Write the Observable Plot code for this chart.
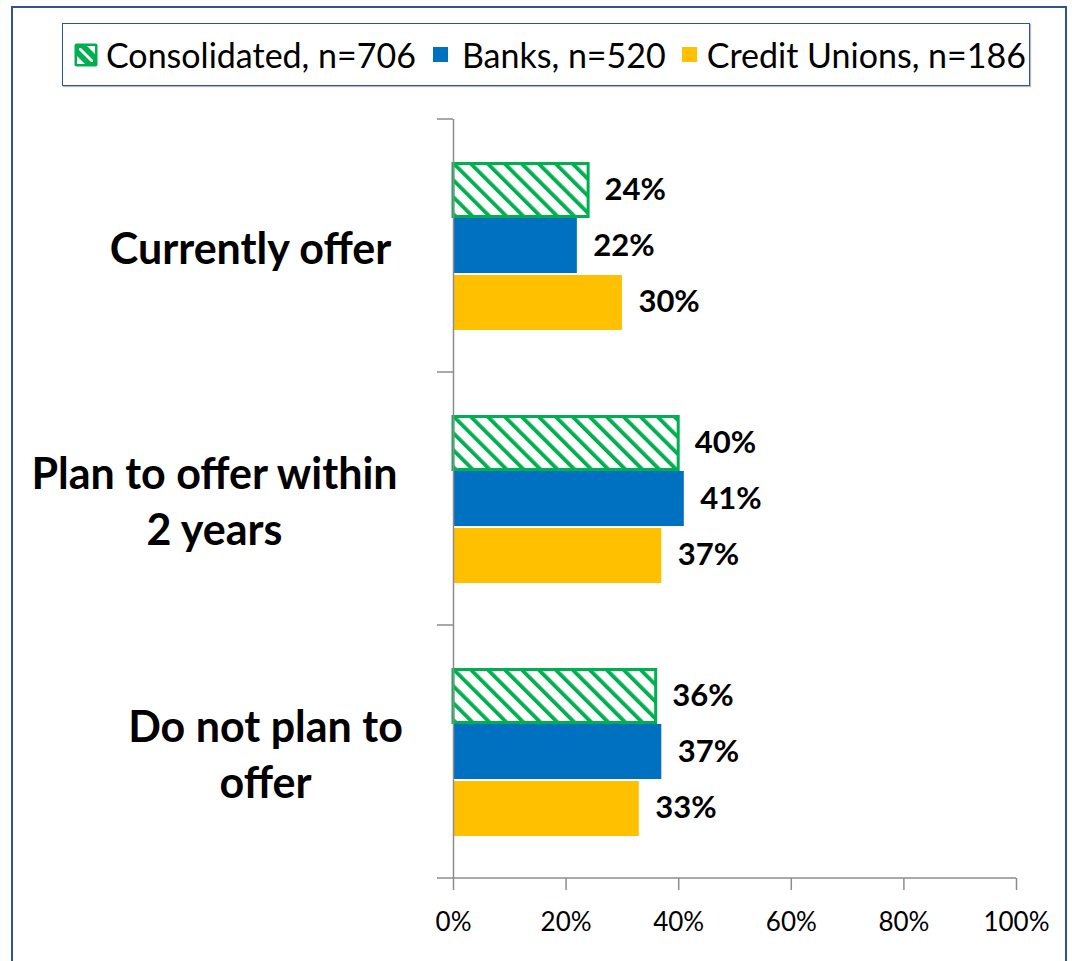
<!DOCTYPE html>
<html><head><meta charset="utf-8">
<script src="https://cdn.jsdelivr.net/npm/d3@7"></script>
<script src="https://cdn.jsdelivr.net/npm/@observablehq/plot@0.6"></script>
<style>
html,body{margin:0;padding:0;background:#fff;}
body{width:1072px;height:961px;position:relative;overflow:hidden;font-family:Lato,sans-serif;}
#chart{position:absolute;left:0;top:0;}
#frame{position:absolute;left:11px;top:6px;width:1056px;height:1000px;border:2.5px solid #2F5496;box-sizing:border-box;pointer-events:none;}
#legend{position:absolute;left:62px;top:23px;width:968px;height:63px;box-sizing:border-box;border:1.5px solid #2F5496;box-shadow:1px 1px 1px #bbb;background:#fff;display:flex;align-items:center;padding-left:11px;font-size:34px;color:#000;white-space:nowrap;}
.item{display:flex;align-items:center;}
.sw{display:inline-block;flex:none;}
</style></head><body>
<div id="chart"></div>
<div id="frame"></div>
<div id="legend"></div>
<script>
// ---- data ----
const categories = ["Currently offer", "Plan to offer within\n2 years", "Do not plan to\noffer"];
const series = ["Consolidated", "Banks", "Credit Unions"];
const sampleSizes = [706, 520, 186];
const consolidated = [24, 40, 36];
const banks = [22, 41, 37];
const creditUnions = [30, 37, 33];
const xTicks = [0, 20, 40, 60, 80, 100];

// ---- styles ----
const colors = {"Consolidated": "#00B050", "Banks": "#0070C0", "Credit Unions": "#FFC000"};
const labelCenterDx = [-203, -239, -188];
const gray = "#8c8c8c";

const valuesBySeries = {"Consolidated": consolidated, "Banks": banks, "Credit Unions": creditUnions};
const rows = [];
categories.forEach((c, i) => series.forEach(s => rows.push({category: c, series: s, value: valuesBySeries[s][i]})));
const of = s => rows.filter(d => d.series === s);

const plot = Plot.plot({
  width: 1072, height: 961,
  marginLeft: 453, marginRight: 56, marginTop: 118, marginBottom: 83,
  style: {fontFamily: "Lato, sans-serif", background: "none", overflow: "visible"},
  x: {domain: [0, 100], axis: null},
  y: {domain: series, axis: null, paddingInner: 0, paddingOuter: 0.75},
  fy: {domain: categories, axis: null, paddingInner: 0, paddingOuter: 0},
  marks: [
    Plot.barX(of("Banks"), {x: "value", y: "series", fy: "category", fill: colors["Banks"], insetBottom: 1}),
    Plot.barX(of("Credit Unions"), {x: "value", y: "series", fy: "category", fill: colors["Credit Unions"], insetTop: 1}),
    Plot.barX(of("Consolidated"), {x: "value", y: "series", fy: "category", fill: "url(#hatch)", stroke: colors["Consolidated"], strokeWidth: 3, insetTop: 1.5, insetBottom: 1.5}),
    Plot.ruleX([0], {stroke: gray, strokeWidth: 1.5}),
    Plot.text(rows, {x: "value", y: "series", fy: "category", text: d => d.value + "%", textAnchor: "start", dx: 16, fontSize: 31, fontWeight: "bold", fill: "#000"}),
    Plot.axisX({ticks: xTicks, tickFormat: d => d + "%", tickSize: 12, tickPadding: 22, fontSize: 26, stroke: gray, strokeWidth: 1.5, fill: "#000", label: null}),
    ...categories.map((c, i) => Plot.axisFy({ticks: [c], anchor: "left", tickSize: 0, tickPadding: 0, textAnchor: "middle", dx: labelCenterDx[i], fontSize: 43, fontWeight: "bold", lineHeight: 1.3, fill: "#000", label: null}))
  ]
});

// hatch pattern
const svg = d3.select(plot);
const defs = svg.insert("defs", ":first-child");
const pat = defs.append("pattern").attr("id", "hatch").attr("patternUnits", "userSpaceOnUse")
  .attr("width", 12).attr("height", 12).attr("patternTransform", "rotate(-45)");
pat.append("rect").attr("width", 12).attr("height", 12).attr("fill", "#fff");
pat.append("rect").attr("width", 3.8).attr("height", 12).attr("fill", colors["Consolidated"]);

// category boundary ticks and baseline
const fy = plot.scale("fy"), xs = plot.scale("x");
const x0 = xs.apply(0), x1 = xs.apply(100);
const bounds = categories.map(c => fy.apply(c)).concat([fy.apply(categories[categories.length - 1]) + fy.bandwidth]);
const g = svg.append("g").attr("stroke", gray).attr("stroke-width", 1.5);
bounds.forEach(b => g.append("line").attr("x1", x0 - 16).attr("x2", x0).attr("y1", b).attr("y2", b));
g.append("line").attr("x1", x0).attr("x2", x1).attr("y1", bounds[bounds.length - 1]).attr("y2", bounds[bounds.length - 1]);

document.getElementById("chart").appendChild(plot);

// legend
const legend = d3.select("#legend");
const gaps = [[8, 0], [14, 17], [10, 16]];
series.forEach((s, i) => {
  const item = legend.append("div").attr("class", "item").style("margin-left", gaps[i][1] + "px");
  if (s === "Consolidated") {
    const sw = item.append("svg").attr("class", "sw").attr("width", 24).attr("height", 24).style("margin-right", gaps[i][0] + "px");
    sw.append("rect").attr("x", 0.5).attr("y", 0.5).attr("width", 23).attr("height", 23).attr("rx", 2).attr("fill", colors[s]);
    sw.append("path").attr("d", "M7,5 L19,17 L19,19 L17,19 L5,7 L5,5 Z").attr("fill", "#fff");
    sw.append("path").attr("d", "M3,13 L11,21 L3,21 Z M13,3 L21,3 L21,11 Z").attr("fill", "#fff");
  } else {
    item.append("span").attr("class", "sw").style("width", "15px").style("height", "15px").style("background", colors[s]).style("margin-right", gaps[i][0] + "px");
  }
  item.append("span").text(`${s}, n=${sampleSizes[i]}`);
});
</script>
</body></html>
